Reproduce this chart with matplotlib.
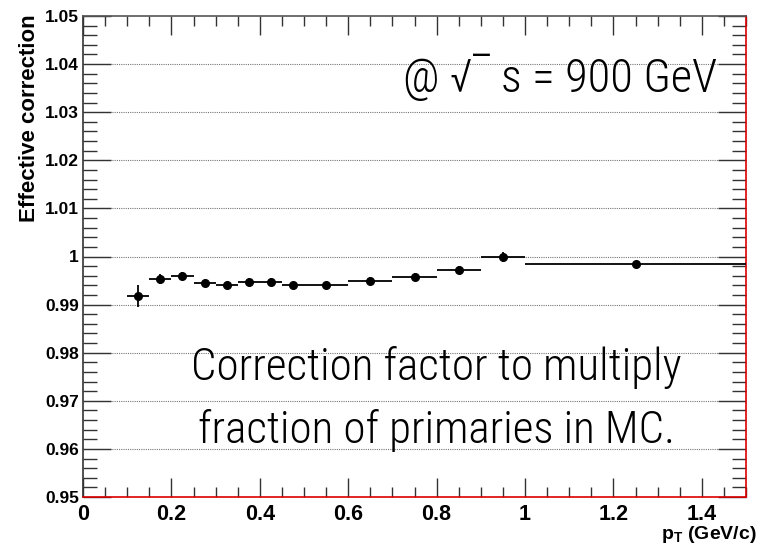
import numpy as np
import matplotlib
matplotlib.use('Agg')
import matplotlib.pyplot as plt
from matplotlib.ticker import MultipleLocator

plt.rcParams['mathtext.fontset'] = 'custom'
plt.rcParams['mathtext.rm'] = 'Liberation Sans'
plt.rcParams['mathtext.bf'] = 'Liberation Sans:bold'

# pT bins (GeV/c) and effective correction per bin
bin_lo = [0.10, 0.15, 0.20, 0.25, 0.30, 0.35, 0.40, 0.45, 0.50, 0.60, 0.70, 0.80, 0.90, 1.00]
bin_hi = [0.15, 0.20, 0.25, 0.30, 0.35, 0.40, 0.45, 0.50, 0.60, 0.70, 0.80, 0.90, 1.00, 1.50]
corr = [0.9918, 0.9953, 0.9959, 0.9944, 0.9940, 0.9948, 0.9948, 0.9940, 0.9940,
        0.9950, 0.9957, 0.9972, 0.9999, 0.9984]
corr_err = [0.0022, 0.0010, 0.0008, 0.0007, 0.0007, 0.0007, 0.0007, 0.0007, 0.0005,
            0.0007, 0.0008, 0.0009, 0.0010, 0.0005]

lo = np.array(bin_lo)
hi = np.array(bin_hi)
x = (lo + hi) / 2
xerr = (hi - lo) / 2

fig = plt.figure(figsize=(7.6, 5.46), dpi=100)
ax = fig.add_axes([83 / 760, 1 - 497 / 546, (746 - 83) / 760, (497 - 16) / 546])

ax.errorbar(x, corr, xerr=xerr, yerr=corr_err, fmt='o', color='black',
            markersize=5.5, elinewidth=1.3, capsize=0, zorder=3)

ax.set_xlim(0, 1.5)
ax.set_ylim(0.95, 1.05)

ax.xaxis.set_minor_locator(MultipleLocator(0.05))
ax.yaxis.set_minor_locator(MultipleLocator(0.002))

ax.set_xticks([0, 0.2, 0.4, 0.6, 0.8, 1.0, 1.2, 1.4])
ax.set_xticklabels(['0', '0.2', '0.4', '0.6', '0.8', '1', '1.2', '1.4'])
yt = [0.95, 0.96, 0.97, 0.98, 0.99, 1.0, 1.01, 1.02, 1.03, 1.04, 1.05]
ax.set_yticks(yt)
ax.set_yticklabels(['0.95', '0.96', '0.97', '0.98', '0.99', '1', '1.01', '1.02', '1.03', '1.04', '1.05'])

ax.tick_params(axis='both', which='both', direction='in', top=True, right=True, color='#333333')
ax.tick_params(axis='x', which='major', length=14, width=1, pad=5)
ax.tick_params(axis='x', which='minor', length=7, width=1)
ax.tick_params(axis='y', which='major', length=20, width=1, pad=3)
ax.tick_params(axis='y', which='minor', length=10, width=1)
for lab in ax.get_xticklabels():
    lab.set_fontfamily('Liberation Sans')
    lab.set_fontweight('bold')
    lab.set_fontsize(15.5)
for lab in ax.get_yticklabels():
    lab.set_fontfamily('Liberation Sans')
    lab.set_fontweight('bold')
    lab.set_fontsize(12.5)

for g in [0.96, 0.97, 0.98, 0.99, 1.0, 1.01, 1.02, 1.03, 1.04]:
    ax.axhline(g, color='#777777', linestyle=(0, (1, 1)), linewidth=0.8, zorder=1)

ax.spines['top'].set_color('#555555')
ax.spines['left'].set_color('#333333')
ax.spines['bottom'].set_color('#dd0000')
ax.spines['right'].set_color('#dd0000')
for s in ax.spines.values():
    s.set_linewidth(1.2)

fig.text(30 / 760, 1 - 14 / 546, 'Effective correction', rotation=90, ha='center', va='top',
         fontfamily='Liberation Sans', fontweight='bold', fontsize=16)
fig.text(757 / 760, 1 - 539 / 546, r'p$_{\mathbf{T}}$ (GeV/c)', ha='right', va='baseline',
         fontfamily='Liberation Sans', fontweight='bold', fontsize=14)

cond = ['Roboto Condensed', 'Roboto', 'DejaVu Sans']
ax.text(1.434, 1.0342, '@ √‾ s = 900 GeV', ha='right', va='baseline',
        fontfamily=cond, fontweight='light', fontsize=33.4)
ax.text(0.799, 0.9743, 'Correction factor to multiply', ha='center', va='baseline',
        fontfamily=cond, fontweight='light', fontsize=32.5)
ax.text(0.799, 0.9612, 'fraction of primaries in MC.', ha='center', va='baseline',
        fontfamily=cond, fontweight='light', fontsize=32.5)

fig.savefig('out.png', dpi=100)
